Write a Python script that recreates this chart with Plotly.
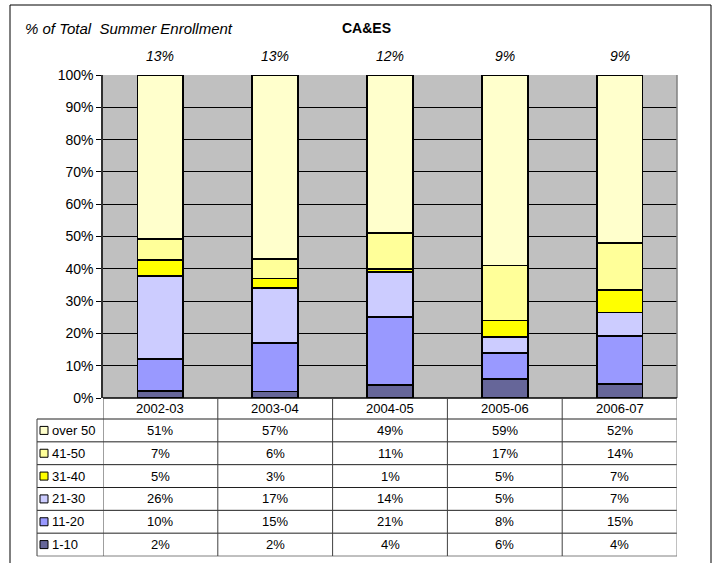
import plotly.graph_objects as go

years = ["2002-03", "2003-04", "2004-05", "2005-06", "2006-07"]
series_names = ["1-10", "11-20", "21-30", "31-40", "41-50", "over 50"]
# percentages (the table shows them rounded)
values = {
    "1-10":    [2.2, 2, 4, 6, 4.3],
    "11-20":   [9.8, 15, 21, 8, 15.0],
    "21-30":   [25.8, 17, 14, 5, 7.2],
    "31-40":   [4.9, 3, 1, 5, 7.0],
    "41-50":   [6.6, 6, 11, 17, 14.4],
    "over 50": [50.7, 57, 49, 59, 52.1],
}
colors = {
    "1-10": "#666699",
    "11-20": "#9999FF",
    "21-30": "#CCCCFF",
    "31-40": "#FFFF00",
    "41-50": "#FFFF99",
    "over 50": "#FFFFCC",
}
share_of_total = [13, 13, 12, 9, 9]
y_ticks = [0, 10, 20, 30, 40, 50, 60, 70, 80, 90, 100]

W, H = 717, 563
FONT = "Liberation Sans, Arial, sans-serif"

def px(x):
    return x / W

def py(y):
    return (H - y) / H

def pct(v):
    return f"{int(v + 0.5)}%"

fig = go.Figure()
for name in series_names:
    fig.add_trace(go.Bar(
        x=years, y=[v / 100 for v in values[name]], name=name,
        marker=dict(color=colors[name], line=dict(color="black", width=1.8)),
        width=0.4, showlegend=False, hoverinfo="skip",
    ))

x_l, x_r = 103, 677
plot_top, plot_bot = 75, 398
tab_top, tab_bot = 398, 556
head_h = 21
n_data = 6
data_h = (tab_bot - tab_top - head_h) / n_data

def edge_px(r):
    # r = 0 top of header, 1 bottom of header, ... 7 bottom of table
    return tab_top if r == 0 else tab_top + head_h + (r - 1) * data_h

def row_edge(r):
    return py(edge_px(r))

def mid_px(r):
    return (edge_px(r) + edge_px(r + 1)) / 2

def row_mid(r):
    return py(mid_px(r))

fig.update_layout(
    width=W, height=H,
    margin=dict(l=0, r=0, t=0, b=0),
    paper_bgcolor="white",
    plot_bgcolor="#C0C0C0",
    barmode="stack",
    font=dict(family=FONT, size=13, color="black"),
    xaxis=dict(domain=[px(x_l), px(x_r)], range=[-0.5, 4.5], type="category",
               categoryorder="array", categoryarray=years,
               showticklabels=False, ticks="", showgrid=False, zeroline=False,
               fixedrange=True),
    yaxis=dict(domain=[py(plot_bot), py(plot_top)], range=[0, 1],
               tickvals=[t / 100 for t in y_ticks],
               ticktext=[f"{t}%" for t in y_ticks],
               ticks="outside", ticklen=5, tickcolor="black",
               tickfont=dict(size=14),
               showgrid=True, gridcolor="black", gridwidth=1,
               showline=True, linecolor="#303030", linewidth=1.5,
               zeroline=False, fixedrange=True, automargin=False),
)

shapes = []
# outer border
shapes.append(dict(type="rect", xref="paper", yref="paper",
                   x0=px(10), x1=px(711), y0=-0.02, y1=py(5),
                   line=dict(color="black", width=1)))
# plot right edge
shapes.append(dict(type="line", xref="paper", yref="paper",
                   x0=px(x_r), x1=px(x_r), y0=py(plot_bot), y1=py(plot_top),
                   line=dict(color="#808080", width=1.5)))
# table horizontal lines
shapes.append(dict(type="line", xref="paper", yref="paper",
                   x0=px(x_l), x1=px(x_r), y0=row_edge(0), y1=row_edge(0),
                   line=dict(color="black", width=1.5)))
for r in range(1, n_data + 2):
    shapes.append(dict(type="line", xref="paper", yref="paper",
                       x0=px(37), x1=px(x_r), y0=row_edge(r), y1=row_edge(r),
                       line=dict(color="#202020" if r < n_data + 1 else "#808080", width=1)))
# table vertical lines
for i in range(len(years) + 1):
    shapes.append(dict(type="line", xref="x", yref="paper",
                       x0=i - 0.5, x1=i - 0.5, y0=row_edge(n_data + 1), y1=row_edge(0),
                       line=dict(color="#404040" if i < len(years) else "#808080", width=1)))
shapes.append(dict(type="line", xref="paper", yref="paper",
                   x0=px(37), x1=px(37), y0=row_edge(n_data + 1), y1=row_edge(1),
                   line=dict(color="#404040", width=1)))

annotations = []
# titles
annotations.append(dict(text="<i>% of Total\u00a0 Summer Enrollment</i>", xref="paper", yref="paper",
                        x=px(23), y=py(29), xanchor="left", yanchor="middle",
                        showarrow=False, font=dict(size=15)))
annotations.append(dict(text="<b>CA&amp;ES</b>", xref="paper", yref="paper",
                        x=px(366), y=py(28), xanchor="center", yanchor="middle",
                        showarrow=False, font=dict(size=14)))
for yr, s in zip(years, share_of_total):
    annotations.append(dict(text=f"<i>{s}%</i>", xref="x", yref="paper",
                            x=yr, y=py(56), xanchor="center", yanchor="middle",
                            showarrow=False, font=dict(size=14)))
# table header row
for yr in years:
    annotations.append(dict(text=yr, xref="x", yref="paper", x=yr, y=row_mid(0),
                            xanchor="center", yanchor="middle",
                            showarrow=False, font=dict(size=13)))
# table rows (top: over 50 ... bottom: 1-10)
table_order = list(reversed(series_names))
sw = 8
for r, name in enumerate(table_order, start=1):
    cy = mid_px(r)
    shapes.append(dict(type="rect", xref="paper", yref="paper",
                       x0=px(40), x1=px(40 + sw), y0=py(cy + sw / 2), y1=py(cy - sw / 2),
                       fillcolor=colors[name], line=dict(color="black", width=1)))
    annotations.append(dict(text=name, xref="paper", yref="paper", x=px(50), y=row_mid(r),
                            xanchor="left", yanchor="middle", showarrow=False,
                            font=dict(size=13)))
    for yr, v in zip(years, values[name]):
        annotations.append(dict(text=pct(v), xref="x", yref="paper", x=yr, y=row_mid(r),
                                xanchor="center", yanchor="middle",
                                showarrow=False, font=dict(size=13)))

fig.update_layout(shapes=shapes, annotations=annotations)
fig.write_html("out.html", config={"displayModeBar": False},
               post_script="document.body.style.margin='0';document.body.style.overflow='hidden';")
